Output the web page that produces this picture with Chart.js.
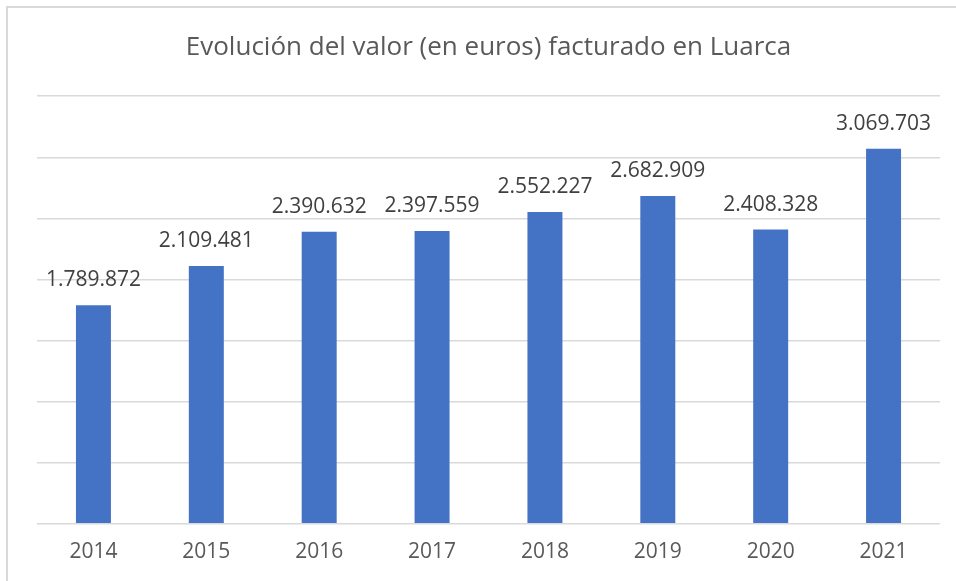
<!DOCTYPE html>
<html>
<head>
<meta charset="utf-8">
<script src="https://cdn.jsdelivr.net/npm/chart.js@4"></script>
<style>
html,body{margin:0;padding:0;background:#fff;}
#wrap{width:956px;height:581px;position:relative;}
</style>
</head>
<body>
<div id="wrap"><canvas id="c" width="956" height="581"></canvas></div>
<script>
const categories = ["2014","2015","2016","2017","2018","2019","2020","2021"];
const values = [1789872, 2109481, 2390632, 2397559, 2552227, 2682909, 2408328, 3069703];
const titleText = "Evolución del valor (en euros) facturado en Luarca";

function fmt(v){ return String(v).replace(/\B(?=(\d{3})+(?!\d))/g, "."); }

const labelPlugin = {
  id: 'valueLabels',
  afterDatasetsDraw(chart){
    const ctx = chart.ctx;
    const meta = chart.getDatasetMeta(0);
    ctx.save();
    ctx.font = '21px "Open Sans"';
    ctx.fillStyle = '#404040';
    ctx.textAlign = 'center';
    ctx.textBaseline = 'middle';
    meta.data.forEach((bar, i) => {
      ctx.fillText(fmt(values[i]), bar.x, bar.y - 25);
    });
    ctx.restore();
  }
};
const borderPlugin = {
  id: 'frame',
  beforeDraw(chart){
    const ctx = chart.ctx;
    ctx.save();
    ctx.fillStyle = '#fff';
    ctx.fillRect(0,0,chart.width,chart.height);
    ctx.strokeStyle = '#d9d9d9';
    ctx.lineWidth = 2;
    ctx.beginPath();
    ctx.moveTo(7, chart.height);
    ctx.lineTo(7, 7);
    ctx.lineTo(chart.width, 7);
    ctx.stroke();
    ctx.restore();
  }
};

new Chart(document.getElementById('c'), {
  type: 'bar',
  data: {
    labels: categories,
    datasets: [{
      data: values,
      backgroundColor: '#4472C4',
      barPercentage: 0.31,
      categoryPercentage: 1
    }]
  },
  options: {
    responsive: false,
    animation: false,
    layout: { padding: { left: 37, right: 16, top: 0, bottom: 0 } },
    plugins: {
      legend: { display: false },
      tooltip: { enabled: false },
      title: {
        display: true,
        text: titleText,
        color: '#595959',
        font: { family: 'Open Sans', size: 26, weight: 'normal' },
        padding: { top: 32, bottom: 33 }
      }
    },
    scales: {
      x: {
        grid: { display: false, drawTicks: false },
        border: { display: false },
        ticks: { color: '#595959', font: { family: 'Open Sans', size: 21 }, padding: 16 }
      },
      y: {
        min: 0, max: 3500000,
        ticks: { display: false, stepSize: 500000 },
        grid: { color: '#d9d9d9', lineWidth: 1.5, drawTicks: false },
        border: { display: false }
      }
    }
  },
  plugins: [borderPlugin, labelPlugin]
});
</script>
</body>
</html>
